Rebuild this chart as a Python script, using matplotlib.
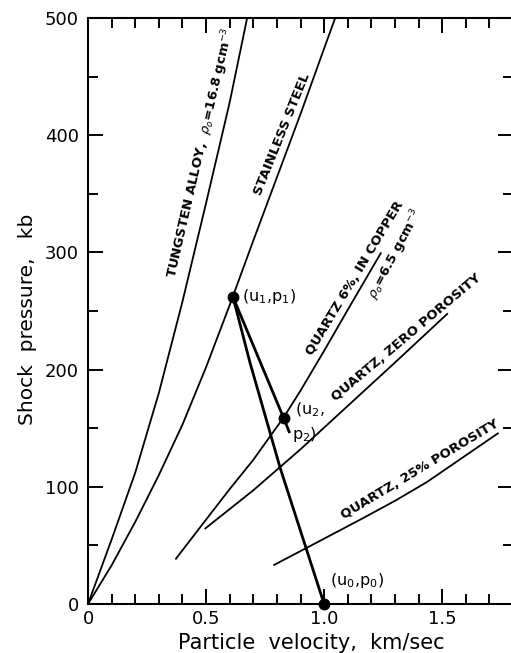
import matplotlib
matplotlib.use("Agg")
import matplotlib.pyplot as plt
from matplotlib.ticker import MultipleLocator

# --- Hugoniot curves (u in km/sec, p in kb) ---
tungsten_u = [0.0, 0.1, 0.2, 0.3, 0.4, 0.5, 0.6, 0.674]
tungsten_p = [0, 55, 112, 180, 258, 342, 428, 500]

steel_u = [0.0, 0.1, 0.2, 0.3, 0.4, 0.5, 0.6, 0.7, 0.8, 0.9, 1.0, 1.047]
steel_p = [0, 33, 70, 110, 153, 202, 255, 310, 364, 418, 474, 500]

quartz6_u = [0.370, 0.5, 0.6, 0.7, 0.828, 0.9, 1.0, 1.1, 1.242]
quartz6_p = [38, 72, 98, 123, 159, 182, 216, 251, 300]

quartz0_u = [0.494, 0.7, 0.9, 1.1, 1.3, 1.524]
quartz0_p = [64, 97, 132, 169, 206, 248]

quartz25_u = [0.785, 0.927, 1.153, 1.300, 1.435, 1.739]
quartz25_p = [33, 48, 72, 88, 104, 146]

# --- release paths from (u1,p1) ---
release_u = [0.614, 0.686, 0.814, 1.0]
release_p = [262, 206, 116, 0]
reflect_u = [0.614, 0.828, 0.852]
reflect_p = [262, 159, 147]

# state points (u1,p1), (u2,p2), (u0,p0)
state_u = [0.614, 0.828, 1.0]
state_p = [262, 159, 0]

x_ticks = [0, 0.5, 1.0, 1.5]
x_ticklabels = ["0", "0.5", "1.0", "1.5"]
y_ticks = [0, 100, 200, 300, 400, 500]

W, H = 511, 653
fig = plt.figure(figsize=(W / 100, H / 100), dpi=100)
ax = fig.add_axes([88 / W, 49 / H, 425 / W, 586 / H])
ax.set_xlim(0, 1.8)
ax.set_ylim(0, 500)

# --- curves ---
for u, p in [(tungsten_u, tungsten_p), (steel_u, steel_p), (quartz6_u, quartz6_p),
             (quartz0_u, quartz0_p), (quartz25_u, quartz25_p)]:
    ax.plot(u, p, color="black", lw=1.3, solid_capstyle="butt", solid_joinstyle="round")
ax.plot(release_u, release_p, color="black", lw=2.0)
ax.plot(reflect_u, reflect_p, color="black", lw=2.0)
ax.plot(state_u, state_p, "o", color="black", ms=7.5, clip_on=False, zorder=5)

# --- labels along the curves ---
lab = dict(family="DejaVu Sans", fontsize=9.5, fontweight="bold", ha="center", va="center",
           rotation_mode="anchor")
ax.text(0.481, 385, r"TUNGSTEN ALLOY,  $\rho_o$=16.8 gcm$^{-3}$", rotation=77, **lab)
ax.text(0.824, 401, "STAINLESS STEEL", rotation=68, **lab)
ax.text(1.131, 278, "QUARTZ 6%, IN COPPER", rotation=59, **lab)
ax.text(1.305, 298, r"$\rho_o$=6.5 gcm$^{-3}$", rotation=62, **lab)
ax.text(1.350, 227, "QUARTZ, ZERO POROSITY", rotation=40, **lab)
ax.text(1.407, 114.5, "QUARTZ, 25% POROSITY", rotation=31, **lab)

pt = dict(fontsize=11.5, ha="left", va="center")
ax.text(0.651, 262, r"(u$_1$,p$_1$)", **pt)
ax.text(0.877, 166, r"(u$_2$,", **pt)
ax.text(0.863, 145, r"p$_2$)", **pt)
ax.text(1.023, 20, r"(u$_0$,p$_0$)", **pt)

# --- axes styling ---
for s in ax.spines.values():
    s.set_linewidth(1.5)
ax.spines["right"].set_visible(False)
ax.set_xticks(x_ticks)
ax.set_xticklabels(x_ticklabels)
ax.set_yticks(y_ticks)
ax.xaxis.set_minor_locator(MultipleLocator(0.1))
ax.yaxis.set_minor_locator(MultipleLocator(50))
ax.tick_params(which="both", direction="in", top=True, right=True, width=1.4,
               labelsize=13)
ax.tick_params(which="major", length=10.8)
ax.tick_params(which="minor", length=7.2)
ax.tick_params(axis="x", pad=4)
ax.tick_params(axis="y", pad=6.5)

ax.set_xlabel("Particle  velocity,  km/sec", fontsize=15)
ax.set_ylabel("Shock  pressure,   kb", fontsize=14.5)
ax.xaxis.set_label_coords(0.525, -0.05)
ax.yaxis.set_label_coords(-0.12, 0.486)

fig.savefig("out.png", dpi=100)
